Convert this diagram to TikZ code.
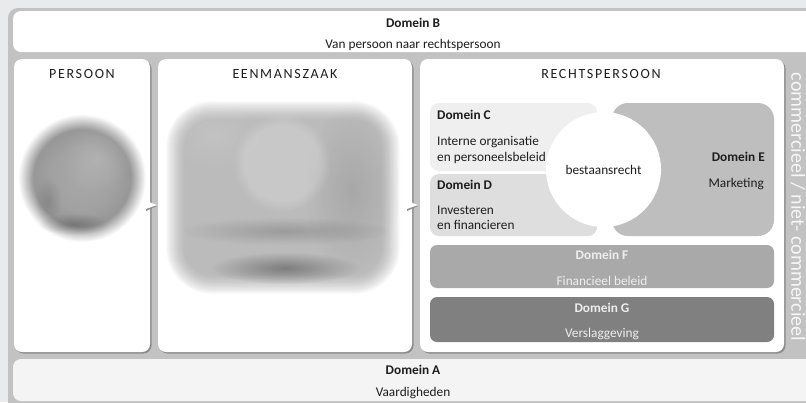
\documentclass[tikz,border=0pt]{standalone}
\usepackage{fontspec}
\setmainfont{Carlito}
\usetikzlibrary{shapes.geometric,fadings}
\definecolor{pagebg}{HTML}{E9EAEC}
\definecolor{framec}{HTML}{C2C2C2}
\definecolor{boxA}{HTML}{F4F4F4}
\definecolor{boxC}{HTML}{EFEFEF}
\definecolor{boxD}{HTML}{DEDEDE}
\definecolor{boxE}{HTML}{BEBEBE}
\definecolor{boxF}{HTML}{A9A9A9}
\definecolor{boxG}{HTML}{808080}
\definecolor{txt}{HTML}{1E1E1E}
\definecolor{shadowc}{HTML}{8C8C8C}
\definecolor{lighttxt}{HTML}{EEEEEE}
\definecolor{vtxt}{HTML}{F6F6F6}
\definecolor{pc0}{HTML}{A7A7A7}
\definecolor{pc1}{HTML}{A2A2A2}
\definecolor{pc2}{HTML}{979797}
\definecolor{pc3}{HTML}{CACACA}
\pgfdeclareradialshading{personshade}{\pgfpointorigin}{color(0bp)=(pc0); color(12bp)=(pc1); color(19bp)=(pc2); color(22bp)=(pc3); color(25bp)=(white); color(50bp)=(white)}
\pgfdeclareradialshading{softdotshade}{\pgfpointorigin}{color(0bp)=(pgftransparent!0); color(25bp)=(pgftransparent!100); color(50bp)=(pgftransparent!100)}
\pgfdeclarefading{softdot}{\pgfuseshading{softdotshade}}
\pgfdeclareradialshading{softdiscshade}{\pgfpointorigin}{color(0bp)=(pgftransparent!0); color(19bp)=(pgftransparent!0); color(25bp)=(pgftransparent!100); color(50bp)=(pgftransparent!100)}
\pgfdeclarefading{softdisc}{\pgfuseshading{softdiscshade}}
\tikzset{
  txtn/.style={inner sep=0pt, text=txt, anchor=base, font=\fontsize{13.3}{16}\selectfont},
  boldn/.style={txtn, font=\fontsize{13.3}{16}\selectfont\bfseries},
  headn/.style={inner sep=0pt, text=txt, anchor=base, font=\fontsize{14}{16}\selectfont\addfontfeature{LetterSpace=12}},
  panel/.style={fill=white, rounded corners=8pt},
  panelshadow/.style={fill=shadowc, rounded corners=8pt},
  arrowtri/.style={fill=white},
}
\begin{document}
\begin{tikzpicture}[x=1pt,y=-1pt]
\useasboundingbox (0,0) rectangle (806,402);
% page background and frame
\fill[pagebg] (0,0) rectangle (806,402);
\fill[framec, rounded corners=10pt] (8,8) rectangle (830,430);
% Domain B
\fill[white, rounded corners=8pt] (13,11) rectangle (830,52);
\node[boldn] (dB) at (413,27) {Domein B};
\node[txtn] (dBt) at (413,48) {Van persoon naar rechtspersoon};
% Domain A
\fill[boxA, rounded corners=8pt] (13,359) rectangle (830,401);
\node[boldn] (dA) at (413,374) {Domein A};
\node[txtn] (dAt) at (413,396) {Vaardigheden};
% panels
\fill[panelshadow] (15.5,60.5) rectangle (151.5,353.5);
\fill[panel] (14,59) rectangle (150,352);
\fill[panelshadow] (159.5,60.5) rectangle (413.5,353.5);
\fill[panel] (158,59) rectangle (412,352);
\fill[panelshadow] (421.5,60.5) rectangle (785.5,353.5);
\fill[panel] (420,59) rectangle (784,352);
\node[headn] (hP) at (82,78) {PERSOON};
\node[headn] (hE) at (285,78) {EENMANSZAAK};
\node[headn] (hR) at (601,78) {RECHTSPERSOON};
% person blob (blurred)
\shade[shading=personshade] (82,178) circle (64);
\fill[white, opacity=0.15, path fading=softdot] (97,158) circle (36);
\fill[black, opacity=0.22, path fading=softdot] (74,224) ellipse (36 and 11);
\fill[black, opacity=0.12, path fading=softdot] (48,200) ellipse (14 and 24);
% eenmanszaak blob (blurred)
\foreach \i in {0,...,23} \fill[black!41, opacity=0.035, rounded corners={46pt-\i*0.8pt}] ({166+\i*0.8},{101+\i*0.8}) rectangle ({400-\i*0.8},{294-\i*0.8});
\fill[black, opacity=0.1, path fading=softdot] (352,190) ellipse (48 and 85);
\fill[white, opacity=0.1, path fading=softdot] (215,135) ellipse (50 and 35);
\fill[white, opacity=0.2, path fading=softdisc] (282,163) circle (49);
\fill[black, opacity=0.17, path fading=softdot] (285,231) ellipse (105 and 14);
\fill[black, opacity=0.33, path fading=softdot] (285,268) ellipse (75 and 16);
% arrows
\coordinate (a1) at (157,205);
\coordinate (a2) at (418,205);
\fill[shadowc] ([shift={(-11,-3)}]a1) -- ([shift={(0,1)}]a1) -- ([shift={(-11,6)}]a1) -- cycle;
\fill[arrowtri] ([shift={(-11,-4)}]a1) -- (a1) -- ([shift={(-11,4)}]a1) -- cycle;
\fill[shadowc] ([shift={(-11,-3)}]a2) -- ([shift={(0,1)}]a2) -- ([shift={(-11,6)}]a2) -- cycle;
\fill[arrowtri] ([shift={(-11,-4)}]a2) -- (a2) -- ([shift={(-11,4)}]a2) -- cycle;
% rechtspersoon domains
\fill[boxC, rounded corners=9pt] (430,103) rectangle (597,171);
\fill[boxD, rounded corners=9pt] (430,174) rectangle (597,236);
\fill[boxE, rounded corners=16pt] (612,103) rectangle (774,236);
\node[circle, fill=white, minimum size=115pt, inner sep=0pt] (circ) at (603.5,169.5) {};
\node[txtn] (best) at (603.5,174.5) {bestaansrecht};
\node[boldn, anchor=base west] (dC) at (437,119.5) {Domein C};
\node[txtn, anchor=base west] (dC1) at (437,145) {Interne organisatie};
\node[txtn, anchor=base west] (dC2) at (437,161.5) {en personeelsbeleid};
\node[boldn, anchor=base west] (dD) at (437,189.5) {Domein D};
\node[txtn, anchor=base west] (dD1) at (437,214.5) {Investeren};
\node[txtn, anchor=base west] (dD2) at (437,229.5) {en financieren};
\node[boldn, anchor=base east] (dE) at (765,161.5) {Domein E};
\node[txtn, anchor=base east] (dE1) at (764,187.5) {Marketing};
\fill[boxF, rounded corners=7pt] (430,245) rectangle (774,288);
\node[boldn, text=lighttxt] (dF) at (602,259.5) {Domein F};
\node[txtn, text=lighttxt] (dF1) at (602,285) {Financieel beleid};
\fill[boxG, rounded corners=7pt] (430,297) rectangle (774,342);
\node[boldn, text=lighttxt] (dG) at (602,312.5) {Domein G};
\node[txtn, text=lighttxt] (dG1) at (602,337.5) {Verslaggeving};
% vertical text
\node[inner sep=0pt, rotate=-90, text=vtxt, font=\fontsize{20}{22}\selectfont] (vert) at (798,207) {commercieel / niet- commercieel};
\end{tikzpicture}
\end{document}
